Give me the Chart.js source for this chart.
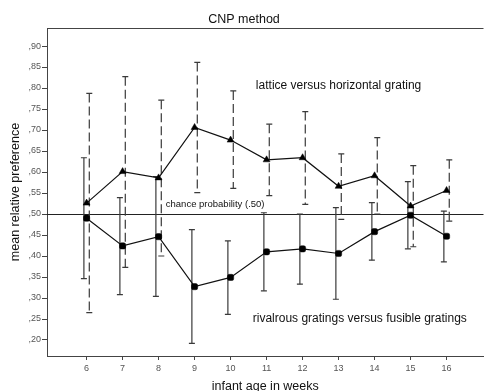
<!DOCTYPE html>
<html>
<head>
<meta charset="utf-8">
<script src="https://cdn.jsdelivr.net/npm/chart.js@4/dist/chart.umd.min.js"></script>
<style>
  html, body { margin: 0; padding: 0; background: #fff; }
  canvas { display: block; }
</style>
</head>
<body>
<canvas id="c" width="488" height="391"></canvas>
<script>
// ---- data ----
const weeks = [6, 7, 8, 9, 10, 11, 12, 13, 14, 15, 16];
const latticeMean = [0.526, 0.601, 0.586, 0.706, 0.676, 0.629, 0.634, 0.566, 0.591, 0.519, 0.556];
const latticeLow  = [0.265, 0.373, 0.400, 0.551, 0.561, 0.544, 0.523, 0.487, 0.500, 0.422, 0.483];
const latticeHigh = [0.787, 0.827, 0.771, 0.861, 0.793, 0.714, 0.744, 0.643, 0.682, 0.615, 0.629];
const rivalMean = [0.490, 0.424, 0.446, 0.327, 0.349, 0.410, 0.417, 0.406, 0.458, 0.497, 0.447];
const rivalLow  = [0.346, 0.308, 0.304, 0.192, 0.261, 0.317, 0.333, 0.297, 0.390, 0.417, 0.386];
const rivalHigh = [0.634, 0.539, 0.589, 0.463, 0.436, 0.503, 0.500, 0.515, 0.527, 0.577, 0.507];
const yTicks = [0.20, 0.25, 0.30, 0.35, 0.40, 0.45, 0.50, 0.55, 0.60, 0.65, 0.70, 0.75, 0.80, 0.85, 0.90];
const chanceLevel = 0.50;

const titleText = 'CNP method';
const xTitle = 'infant age in weeks';
const yTitle = 'mean relative preference';
const latticeLabel = 'lattice versus horizontal grating';
const rivalLabel = 'rivalrous gratings versus fusible gratings';
const chanceLabel = 'chance probability (.50)';

const FONT = '"Liberation Sans", Arial, sans-serif';

const fmt = v => ',' + Math.round(v * 100).toString().padStart(2, '0');

const extras = {
  id: 'extras',
  beforeDatasetsDraw(chart) {
    const ctx = chart.ctx;
    const xs = chart.scales.x, ys = chart.scales.y;
    const a = chart.chartArea;
    ctx.save();
    // top frame line
    ctx.strokeStyle = '#444';
    ctx.lineWidth = 1;
    ctx.beginPath();
    ctx.moveTo(a.left, Math.round(a.top) + 0.5);
    ctx.lineTo(a.right, Math.round(a.top) + 0.5);
    ctx.stroke();
    // chance line
    const yc = Math.round(ys.getPixelForValue(chanceLevel)) + 0.5;
    ctx.strokeStyle = '#222';
    ctx.beginPath();
    ctx.moveTo(a.left, yc);
    ctx.lineTo(a.right, yc);
    ctx.stroke();

    const drawBars = (lo, hi, dx, dash, color) => {
      ctx.strokeStyle = color;
      ctx.lineWidth = 1.2;
      weeks.forEach((w, i) => {
        const x = xs.getPixelForValue(w) + dx;
        const y1 = ys.getPixelForValue(lo[i]);
        const y2 = ys.getPixelForValue(hi[i]);
        ctx.setLineDash(dash);
        ctx.beginPath();
        ctx.moveTo(x, y2);
        ctx.lineTo(x, y1);
        ctx.stroke();
        ctx.setLineDash([]);
        ctx.beginPath();
        ctx.moveTo(x - 3, y1); ctx.lineTo(x + 3, y1);
        ctx.moveTo(x - 3, y2); ctx.lineTo(x + 3, y2);
        ctx.stroke();
      });
    };
    drawBars(rivalLow, rivalHigh, -2.7, [], '#3a3a3a');
    drawBars(latticeLow, latticeHigh, 2.7, [9, 4], '#3a3a3a');

    // annotations
    ctx.fillStyle = '#111';
    ctx.textBaseline = 'middle';
    ctx.font = '12px ' + FONT;
    ctx.textAlign = 'center';
    ctx.fillText(latticeLabel, xs.getPixelForValue(13.0), ys.getPixelForValue(0.805));
    ctx.fillText(rivalLabel, xs.getPixelForValue(13.59), ys.getPixelForValue(0.25));
    ctx.font = '9.5px ' + FONT;
    ctx.textAlign = 'left';
    ctx.fillText(chanceLabel, xs.getPixelForValue(8.2), ys.getPixelForValue(0.524));
    ctx.restore();
  }
};

new Chart(document.getElementById('c'), {
  type: 'line',
  data: {
    datasets: [
      {
        label: latticeLabel,
        data: weeks.map((w, i) => ({ x: w, y: latticeMean[i] })),
        borderColor: '#111',
        borderWidth: 1.2,
        pointStyle: 'triangle',
        pointRadius: 4,
        pointBackgroundColor: '#000',
        pointBorderColor: '#000',
        pointBorderWidth: 0.5,
        tension: 0
      },
      {
        label: rivalLabel,
        data: weeks.map((w, i) => ({ x: w, y: rivalMean[i] })),
        borderColor: '#111',
        borderWidth: 1.2,
        pointStyle: 'rectRounded',
        pointRadius: 3.6,
        pointBackgroundColor: '#000',
        pointBorderColor: '#000',
        pointBorderWidth: 0.5,
        tension: 0
      }
    ]
  },
  options: {
    responsive: false,
    animation: false,
    events: [],
    layout: { padding: { left: 0, right: 0, top: 0, bottom: 0 } },
    plugins: {
      legend: { display: false },
      tooltip: { enabled: false },
      title: {
        display: true,
        text: titleText,
        color: '#111',
        font: { family: FONT, size: 12.5, weight: 'normal', lineHeight: 1.2 },
        padding: { top: 12.5, bottom: 0.5 }
      }
    },
    scales: {
      x: {
        type: 'linear',
        min: 4.9,
        max: 17.026,
        afterBuildTicks: s => { s.ticks = weeks.map(v => ({ value: v })); },
        afterFit: s => { s.height = 35; },
        ticks: {
          color: '#555',
          font: { family: FONT, size: 9 },
          padding: 3,
          maxRotation: 0,
          callback: v => String(v)
        },
        grid: { drawOnChartArea: false, drawTicks: true, tickLength: 4, color: '#444' },
        border: { display: true, color: '#444', width: 1 },
        title: {
          display: true,
          text: xTitle,
          color: '#111',
          font: { family: FONT, size: 12.5, lineHeight: 0.7 },
          padding: { top: 0, bottom: 0 }
        }
      },
      y: {
        type: 'linear',
        min: 0.1619,
        max: 0.9429,
        afterBuildTicks: s => { s.ticks = yTicks.map(v => ({ value: v })); },
        afterFit: s => { s.width = 47; },
        ticks: {
          color: '#555',
          font: { family: FONT, size: 9 },
          padding: 1,
          callback: v => fmt(v)
        },
        grid: { drawOnChartArea: false, drawTicks: true, tickLength: 5, color: '#444' },
        border: { display: true, color: '#444', width: 1 },
        title: {
          display: true,
          text: yTitle,
          color: '#111',
          font: { family: FONT, size: 12.5, lineHeight: 1.2 },
          padding: { top: 8, bottom: 0 }
        }
      }
    }
  },
  plugins: [extras]
});
</script>
</body>
</html>
